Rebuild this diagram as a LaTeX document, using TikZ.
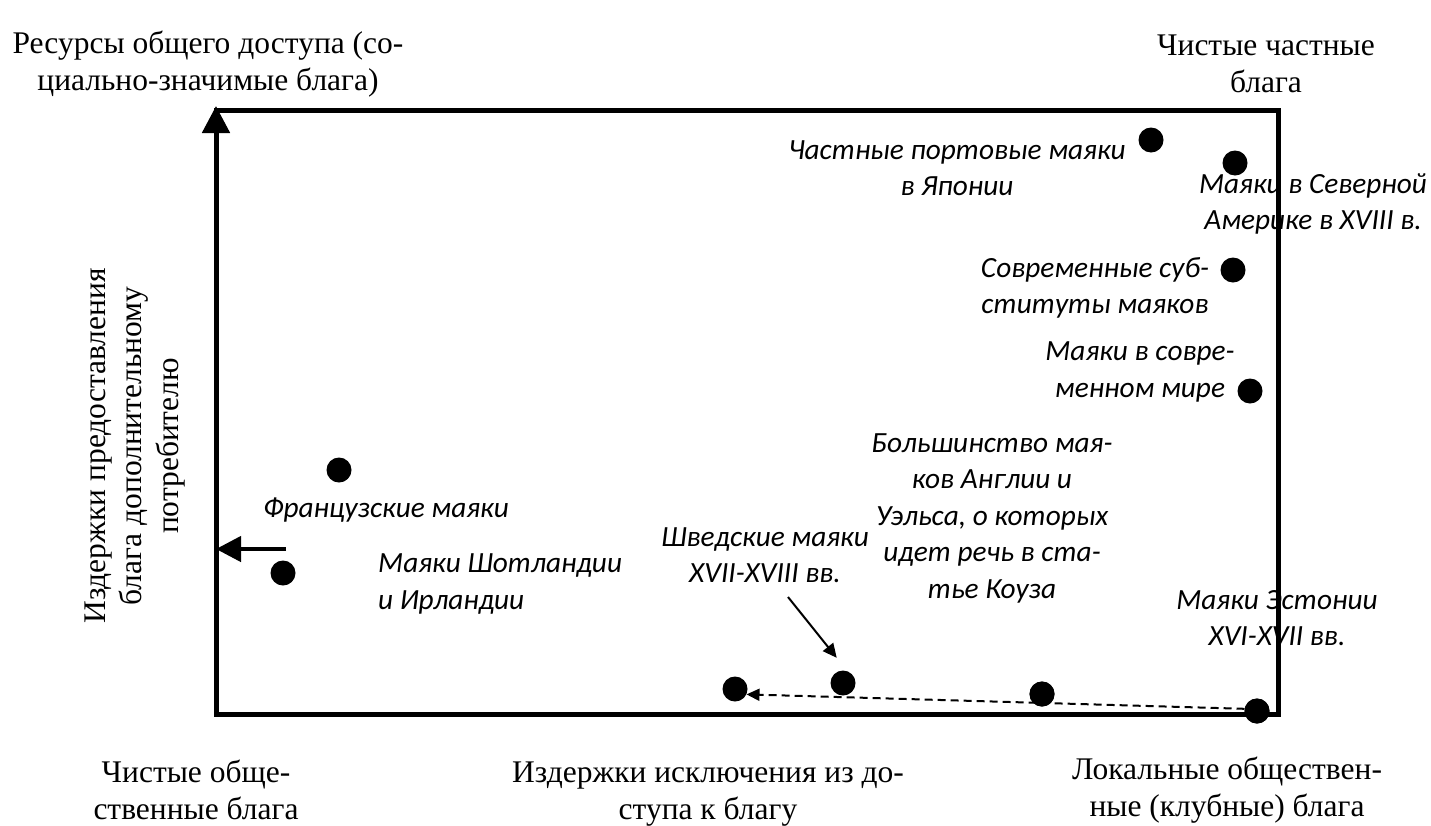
\documentclass[tikz,border=0pt]{standalone}
\usepackage{fontspec}
\setmainfont{Liberation Serif}
\newfontfamily\labfont{Carlito}
\usetikzlibrary{arrows.meta}
\begin{document}
\begin{tikzpicture}[x=1pt,y=-1pt,
  axislbl/.style={font={\fontsize{31.5}{36.5}\selectfont}, align=center, inner sep=0pt},
  ptlbl/.style={font={\labfont\itshape\fontsize{29.3}{36.5}\selectfont}, align=center, inner sep=0pt},
  dot/.style={circle, fill=black, minimum size=25pt, inner sep=0pt},
  border/.style={line width=5pt, line join=miter},
  bigarrow/.style={line width=4.5pt, -{Triangle[length=25pt,width=25pt]}},
  thinarrow/.style={line width=2pt, -{Triangle[length=14pt,width=13pt]}},
  dasharrow/.style={line width=2pt, dash pattern=on 8pt off 5pt, -{Triangle[length=13pt,width=12pt]}},
]
\useasboundingbox (0,0) rectangle (1431,825);
% frame corners
\coordinate (BL) at (216,714);
\coordinate (TL) at (216,110);
\coordinate (TR) at (1278,110);
\coordinate (BR) at (1278,714);
\coordinate (axtop) at (216,106);
\draw[border] (TL) -- (TR) -- (BR) -- (BL) -- cycle;
\draw[line width=5pt, -{Triangle[length=27pt,width=27pt]}] (BL) -- (axtop);

% corner and axis labels
\node[axislbl] (rl) at (208,64) {Ресурсы общего доступа (со-\\циально-значимые блага)};
\node[axislbl] (cp) at (1266,64) {Чистые частные\\блага};
\node[axislbl] (cpub) at (196,790) {Чистые обще-\\ственные блага};
\node[axislbl] (exc) at (708,794) {Издержки исключения из до-\\ступа к благу};
\node[axislbl] (loc) at (1227,790) {Локальные обществен-\\ные (клубные) блага};
\node[axislbl, rotate=90] (prov) at (135,446) {Издержки предоставления\\блага дополнительному\\потребителю};

% point labels
\node[ptlbl] (ljap) at (957,168) {Частные портовые маяки\\в Японии};
\node[ptlbl] (lna) at (1313,204) {Маяки в Северной\\Америке в XVIII в.};
\node[ptlbl] (lsub) at (1095,288) {Современные суб-\\ституты маяков};
\node[ptlbl] (lmod) at (1140,372) {Маяки в совре-\\менном мире};
\node[ptlbl] (leng) at (992,518) {Большинство мая-\\ков Англии и\\Уэльса, о которых\\идет речь в ста-\\тье Коуза};
\node[ptlbl] (lfr) at (386,510) {Французские маяки};
\node[ptlbl, align=left, anchor=west] (lsc) at (378,584) {Маяки Шотландии\\и Ирландии};
\node[ptlbl] (lsw) at (765,555) {Шведские маяки\\XVII-XVIII вв.};
\node[ptlbl] (lest) at (1277,618) {Маяки Эстонии\\XVI-XVII вв.};

% connectors
\coordinate (ltail) at (286,549);
\draw[bigarrow] (ltail) -- (ltail -| TL);

% dots
\node[dot] (jap) at (1151,140) {};
\node[dot] (na) at (1235,163) {};
\node[dot] (sub) at (1233,270) {};
\node[dot] (mod) at (1250,391) {};
\node[dot] (fr) at (339,470) {};
\node[dot] (sc) at (283,573) {};
\node[dot] (sw) at (843,683) {};
\node[dot] (d1) at (735,689) {};
\node[dot] (eng) at (1042,694) {};
\node[dot] (est) at (1257,711) {};

\coordinate (swtail) at (788,597);
\draw[thinarrow, shorten >=17pt] (swtail) -- (sw.70);
\draw[dasharrow] (est.170) -- (d1.-25);
\node[dot] at (est) {};
\node[dot] at (eng) {};
\end{tikzpicture}
\end{document}
